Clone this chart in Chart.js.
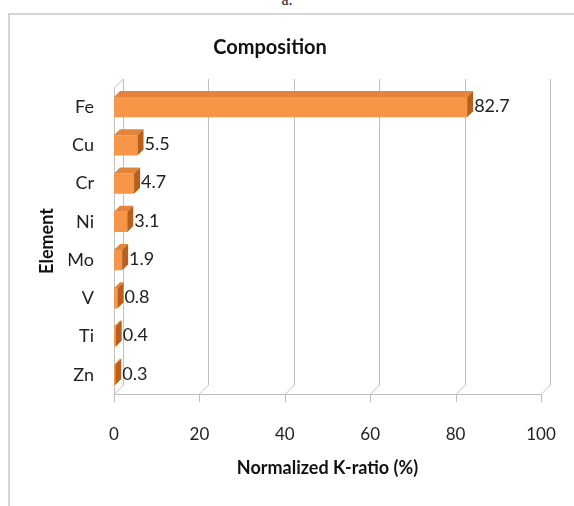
<!DOCTYPE html>
<html>
<head>
<meta charset="utf-8">
<script src="https://cdn.jsdelivr.net/npm/chart.js@4/dist/chart.umd.min.js"></script>
<style>
  html, body { margin: 0; padding: 0; background: #fff; }
  #wrap { position: relative; width: 574px; height: 506px; overflow: hidden; }
  #frame { position: absolute; left: 8px; top: 13px; width: 620px; height: 540px;
           border: 2px solid #d6d6d6; box-sizing: border-box; }
  #caption { position: absolute; left: 0; width: 574px; top: -9px; text-align: center;
             font-family: "Liberation Serif", serif; font-size: 16px; color: #222; }
  canvas { position: absolute; left: 0; top: 0; }
</style>
</head>
<body>
<div id="wrap">
  <div id="frame"></div>
  <div id="caption">a.</div>
  <canvas id="c" width="574" height="506"></canvas>
</div>
<script>
const elements = ["Fe", "Cu", "Cr", "Ni", "Mo", "V", "Ti", "Zn"];
const kRatio = [82.7, 5.5, 4.7, 3.1, 1.9, 0.8, 0.4, 0.3];
const xTicks = [0, 20, 40, 60, 80, 100];
const chartTitle = 'Composition';

const FONT = "Lato, 'Liberation Sans', sans-serif";
const DEPTH = 9;      // depth of the back wall
const BAR_DEPTH = 6;  // depth of each 3D bar

// Chart title, centred over the whole frame
const titlePlugin = {
  id: 'frameTitle',
  afterDraw(chart) {
    const { ctx } = chart;
    ctx.save();
    ctx.fillStyle = '#111';
    ctx.font = 'bold 20px ' + FONT;
    ctx.textAlign = 'center';
    ctx.textBaseline = 'middle';
    ctx.fillText(chartTitle, 270, 48);
    ctx.restore();
  }
};

// Back wall, floor and left wall of the 3D frame
const wallPlugin = {
  id: 'walls',
  beforeDatasetsDraw(chart) {
    const { ctx, chartArea: a, scales: { x } } = chart;
    ctx.save();
    ctx.strokeStyle = '#bfbfbf';
    ctx.lineWidth = 1;
    ctx.beginPath();
    xTicks.forEach(v => {
      const px = Math.round(x.getPixelForValue(v)) + 0.5;
      // back wall vertical gridline
      ctx.moveTo(px + DEPTH, a.top - DEPTH);
      ctx.lineTo(px + DEPTH, a.bottom - DEPTH);
      // floor diagonal
      ctx.lineTo(px, a.bottom);
      // tick mark below the floor
      ctx.lineTo(px, a.bottom + 8);
    });
    // floor front edge
    const l = Math.round(a.left) + 0.5, r = Math.round(a.right) + 0.5, b = Math.round(a.bottom) + 0.5;
    ctx.moveTo(l, b);
    ctx.lineTo(r, b);
    // left wall front edge
    ctx.moveTo(l, b);
    ctx.lineTo(l, a.top);
    ctx.lineTo(l + DEPTH, a.top - DEPTH);
    ctx.stroke();
    ctx.restore();
  }
};

// Side and top faces of the bars plus value labels
const barPlugin = {
  id: 'bars3d',
  afterDatasetsDraw(chart) {
    const { ctx } = chart;
    const meta = chart.getDatasetMeta(0);
    const d = BAR_DEPTH;
    ctx.save();
    meta.data.forEach((bar, i) => {
      const p = bar.getProps(['x', 'y', 'base', 'height'], true);
      const top = p.y - p.height / 2, bottom = p.y + p.height / 2;
      // top face
      ctx.fillStyle = '#E4833A';
      ctx.beginPath();
      ctx.moveTo(p.base, top);
      ctx.lineTo(p.x, top);
      ctx.lineTo(p.x + d, top - d);
      ctx.lineTo(p.base + d, top - d);
      ctx.closePath();
      ctx.fill();
      // side face
      ctx.fillStyle = '#B5601F';
      ctx.beginPath();
      ctx.moveTo(p.x, top);
      ctx.lineTo(p.x + d, top - d);
      ctx.lineTo(p.x + d, bottom - d);
      ctx.lineTo(p.x, bottom);
      ctx.closePath();
      ctx.fill();
      // value label
      ctx.fillStyle = '#222';
      ctx.font = '18px ' + FONT;
      ctx.textAlign = 'left';
      ctx.textBaseline = 'middle';
      ctx.fillText(String(kRatio[i]), p.x + d + 1, p.y - 1);
    });
    ctx.restore();
  }
};

new Chart(document.getElementById('c'), {
  type: 'bar',
  data: {
    labels: elements,
    datasets: [{
      label: 'Normalized K-ratio (%)',
      data: kRatio,
      backgroundColor: '#F79646',
      borderWidth: 0,
      barPercentage: 0.53,
      categoryPercentage: 1
    }]
  },
  options: {
    indexAxis: 'y',
    responsive: false,
    animation: false,
    devicePixelRatio: 1,
    layout: { padding: { left: 30, right: 33, top: 88, bottom: 0 } },
    plugins: {
      legend: { display: false },
      tooltip: { enabled: false },
      title: { display: false }
    },
    scales: {
      x: {
        type: 'linear',
        min: 0,
        max: 100,
        afterBuildTicks(scale) { scale.ticks = xTicks.map(v => ({ value: v })); },
        afterFit(scale) {
          scale.height = 112;
          scale.paddingLeft = 0;
          scale.paddingRight = 0;
        },
        grid: { display: false, drawTicks: false },
        border: { display: false },
        ticks: { color: '#222', font: { family: FONT, size: 17 }, padding: 30 },
        title: {
          display: true,
          text: 'Normalized K-ratio (%)',
          color: '#111',
          font: { family: FONT, size: 18, weight: 'bold' },
          padding: { top: 0, bottom: 27 }
        }
      },
      y: {
        afterFit(scale) {
          scale.width = 84;
          scale.paddingTop = 0;
          scale.paddingBottom = 0;
        },
        grid: { display: false, drawTicks: false },
        border: { display: false },
        ticks: { color: '#222', font: { family: FONT, size: 18 }, padding: 20 },
        title: {
          display: true,
          text: 'Element',
          color: '#111',
          font: { family: FONT, size: 18, weight: 'bold' },
          padding: { top: 6, bottom: 0 }
        }
      }
    }
  },
  plugins: [wallPlugin, barPlugin, titlePlugin]
});
</script>
</body>
</html>
